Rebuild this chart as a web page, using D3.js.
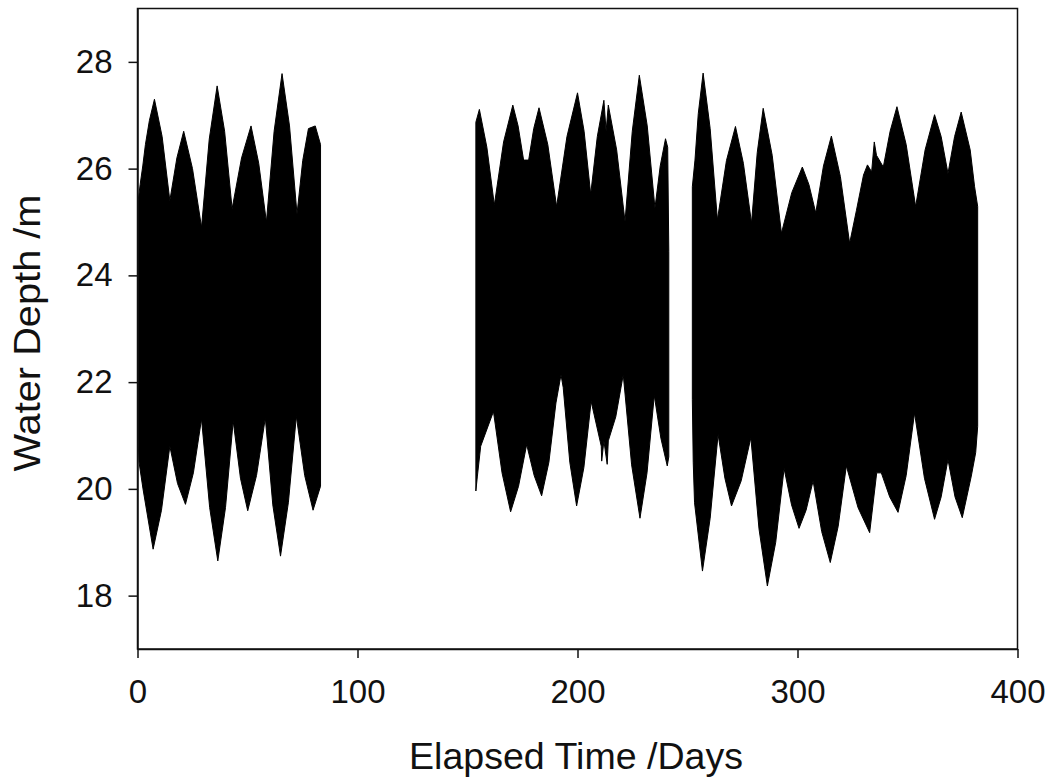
<!DOCTYPE html>
<html>
<head>
<meta charset="utf-8">
<script src="https://cdn.jsdelivr.net/npm/d3@7"></script>
<style>
  html, body { margin: 0; padding: 0; background: #ffffff; }
  svg { display: block; }
  text { font-family: "Liberation Sans", Arial, sans-serif; fill: #111; }
</style>
</head>
<body>
<svg id="chart" width="1054" height="780"></svg>
<script>
// ---- Data ----
// x-axis ticks and y-axis ticks
const xTicks = [0, 100, 200, 300, 400];
const yTicks = [18, 20, 22, 24, 26, 28];

// Envelope of the tidal water-depth record, [day, depth m]
const seg1Upper = [[0,25.3],[1.2,25.7],[2.4,26.05],[3.6,26.45],[5.4,26.9],[7.7,27.3],[11.2,26.6],[14.7,25.4],[17.9,26.2],[21.0,26.7],[25.0,26.0],[29.1,24.9],[32.6,26.55],[36.2,27.55],[39.6,26.7],[43.0,25.25],[47.3,26.2],[51.6,26.8],[55.1,26.1],[58.6,25.0],[62.1,26.7],[65.7,27.78],[69.1,26.8],[72.5,25.15],[75.1,26.15],[77.7,26.75],[80.8,26.8],[83.2,26.45]];
const seg1Lower = [[0,21.17],[0.7,20.5],[2.5,20.0],[7.1,18.87],[10.9,19.6],[14.7,20.8],[18.2,20.1],[21.8,19.71],[25.4,20.3],[29.1,21.31],[32.8,19.65],[36.5,18.65],[40.0,19.65],[43.5,21.27],[46.8,20.2],[50.1,19.59],[54.1,20.25],[58.1,21.33],[61.5,19.7],[65.0,18.74],[68.6,19.75],[72.2,21.36],[76.0,20.25],[79.8,19.6],[83.2,20.05]];

const seg2Upper = [[153.8,26.87],[155.4,27.11],[158.8,26.4],[162.2,25.32],[166.4,26.5],[170.6,27.19],[173.0,26.8],[175.5,26.16],[177.8,26.16],[180.1,26.75],[182.5,27.14],[186.5,26.45],[190.5,25.29],[195.2,26.6],[200.0,27.42],[203.0,26.7],[206.0,25.52],[209.0,26.6],[212.0,27.28],[213.0,26.7],[214.0,27.19],[217.8,26.35],[221.6,25.01],[224.9,26.7],[228.1,27.75],[231.7,26.8],[235.2,25.26],[237.6,26.05],[240.0,26.56],[241.0,26.4],[241.5,24.45]];
const seg2Lower = [[153.8,19.96],[154.5,20.24],[156.0,20.8],[161.8,21.45],[165.7,20.3],[169.6,19.57],[173.2,20.05],[176.9,20.83],[180.3,20.25],[183.7,19.87],[187.0,20.5],[190.2,21.61],[192.5,22.14],[193.5,21.9],[196.5,20.5],[199.6,19.68],[202.9,20.4],[206.2,21.64],[210.8,20.8],[211.0,20.52],[212.0,20.9],[213.5,20.46],[214.0,20.9],[217.4,21.35],[220.8,22.14],[224.6,20.45],[228.4,19.45],[231.6,20.3],[234.9,21.75],[237.9,20.95],[240.8,20.43],[241.5,20.6]];

const seg3Upper = [[252.2,25.66],[253.4,26.16],[254.9,27.03],[257.1,27.79],[260.3,26.75],[263.6,25.04],[267.7,26.15],[271.8,26.79],[275.4,26.1],[279.1,24.98],[281.7,26.3],[284.4,27.13],[288.5,26.25],[292.7,24.79],[297.4,25.55],[302.2,26.03],[305.2,25.7],[308.3,25.17],[311.8,26.05],[315.4,26.61],[319.5,25.85],[323.7,24.6],[326.8,25.22],[330.0,25.88],[331.8,26.07],[333.7,25.94],[334.9,26.5],[335.9,26.25],[339.0,26.03],[342.1,26.7],[345.2,27.16],[349.4,26.45],[353.7,25.29],[358.0,26.35],[362.3,27.01],[365.3,26.6],[368.4,25.91],[371.4,26.6],[374.4,27.06],[378.5,26.35],[380.5,25.66],[381.9,25.29]];
const seg3Lower = [[252.2,21.67],[252.6,20.5],[253.2,19.74],[256.8,18.46],[260.3,19.45],[263.9,21.02],[267.0,20.2],[270.0,19.68],[274.4,20.15],[278.8,20.96],[282.5,19.25],[286.3,18.18],[290.1,19.0],[293.9,20.38],[297.3,19.7],[300.7,19.26],[303.9,19.6],[307.1,20.15],[311.0,19.2],[314.9,18.62],[318.5,19.3],[322.2,20.43],[327.5,19.65],[332.8,19.18],[336.0,20.3],[338.1,20.3],[341.9,19.85],[345.7,19.56],[349.4,20.25],[353.2,21.42],[357.7,20.2],[362.3,19.43],[365.3,19.85],[368.4,20.55],[371.6,19.85],[374.9,19.46],[379.0,20.24],[381.0,20.68],[381.9,21.17]];

const segments = [[seg1Upper, seg1Lower], [seg2Upper, seg2Lower], [seg3Upper, seg3Lower]];

// ---- Layout ----
const svg = d3.select("#chart");
const mLeft = 137.5, mRight = 1017.5, mTop = 8.5, mBottom = 649;

const x = d3.scaleLinear().domain([0, 400]).range([mLeft, mRight]);
const y = d3.scaleLinear().domain([17, 29]).range([mBottom, mTop]);

// Filled envelope (upper edge forward, lower edge back)
const line = d3.line().x(d => x(d[0])).y(d => y(d[1]));
svg.append("g").selectAll("path")
  .data(segments)
  .join("path")
  .attr("d", s => line(s[0].concat(s[1].slice().reverse())) + "Z")
  .attr("fill", "#000")
  .attr("stroke", "#000")
  .attr("stroke-width", 1);

// Frame
svg.append("rect")
  .attr("x", mLeft).attr("y", mTop)
  .attr("width", mRight - mLeft).attr("height", mBottom - mTop)
  .attr("fill", "none").attr("stroke", "#111").attr("stroke-width", 1.5);

// Axes
const xAxis = svg.append("g")
  .attr("transform", `translate(0,${mBottom})`)
  .call(d3.axisBottom(x).tickValues(xTicks).tickFormat(d3.format("d")).tickSize(9).tickSizeOuter(0).tickPadding(22));
const yAxis = svg.append("g")
  .attr("transform", `translate(${mLeft},0)`)
  .call(d3.axisLeft(y).tickValues(yTicks).tickFormat(d3.format("d")).tickSize(9).tickSizeOuter(0).tickPadding(16));

[xAxis, yAxis].forEach(g => {
  g.selectAll("path.domain").attr("stroke", "#111").attr("stroke-width", 1.5);
  g.selectAll(".tick line").attr("stroke", "#111").attr("stroke-width", 1.5);
  g.selectAll(".tick text").attr("fill", "#111")
    .style("font-family", '"Liberation Sans", Arial, sans-serif')
    .style("font-size", "33px");
});

// Axis titles
svg.append("text")
  .attr("x", 576).attr("y", 769)
  .attr("text-anchor", "middle")
  .attr("textLength", 334).attr("lengthAdjust", "spacingAndGlyphs")
  .style("font-size", "36px")
  .text("Elapsed Time /Days");

svg.append("text")
  .attr("transform", `translate(40,333) rotate(-90)`)
  .attr("text-anchor", "middle")
  .attr("textLength", 277).attr("lengthAdjust", "spacingAndGlyphs")
  .style("font-size", "36px")
  .text("Water Depth /m");
</script>
</body>
</html>
